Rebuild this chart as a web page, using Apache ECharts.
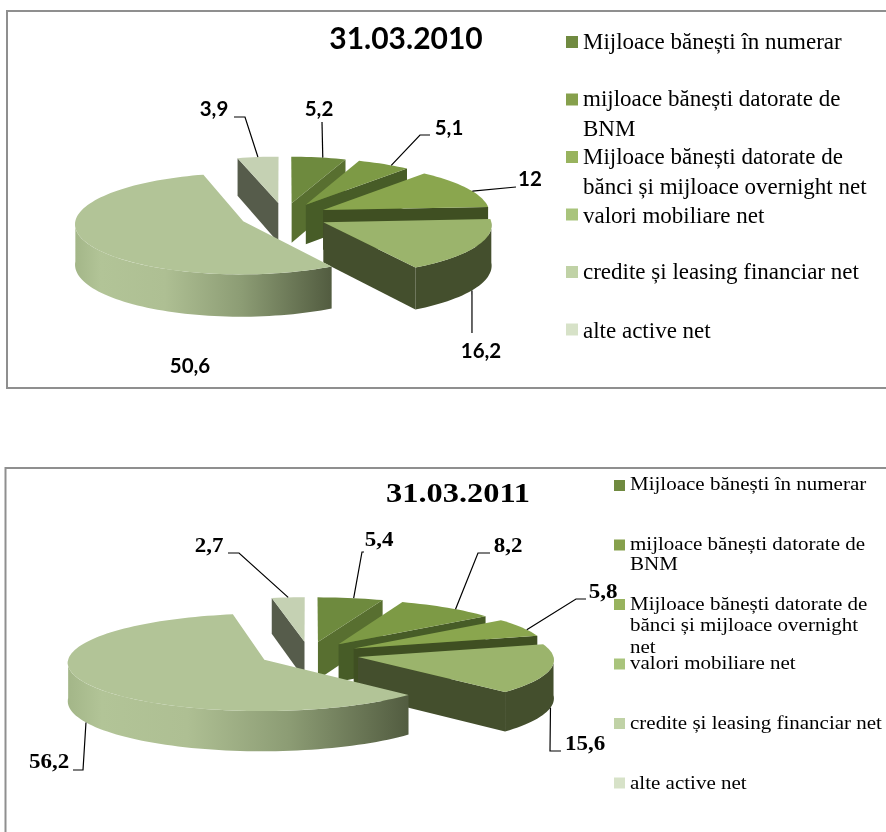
<!DOCTYPE html>
<html><head><meta charset="utf-8">
<style>html,body{margin:0;padding:0;background:#fff}#c{width:886px;height:832px}</style>
<script src="https://cdn.jsdelivr.net/npm/echarts@6/dist/echarts.min.js"></script>
</head><body><div id="c"></div>
<script>
// ---- data ----
const categories = ['Mijloace bănești în numerar','mijloace bănești datorate de BNM','Mijloace bănești datorate de bănci și mijloace overnight net','valori mobiliare net','credite și leasing financiar net','alte active net'];
const values2010 = [5.2, 5.1, 12, 16.2, 50.6, 3.9];
const values2011 = [5.4, 8.2, 5.8, 15.6, 56.2, 2.7];
const legendLines2010 = [['Mijloace bănești în numerar'],['mijloace bănești datorate de','BNM'],['Mijloace bănești datorate de','bănci și mijloace overnight net'],['valori mobiliare net'],['credite și leasing financiar net'],['alte active net']];
const legendLines2011 = [['Mijloace bănești în numerar'],['mijloace bănești datorate de','BNM'],['Mijloace bănești datorate de','bănci și mijloace overnight','net'],['valori mobiliare net'],['credite și leasing financiar net'],['alte active net']];
// ---- colours ----
const topColors = ['#6e8a3e','#7d9a45','#8aa64e','#9bb46c','#b2c497','#c5d1b3'];
const sideColors = ['#586f30','#475c27','#3f4f22','#444f2d','#b2c497','#565c4b'];
const swatchColors = ['#708a40','#86a04c','#98b35e','#a9c47c','#c0d2a6','#d7e2c8'];
const paintOrder = [5,0,1,2,3,4];
// ---- layout ----
const layouts = [{
  title:'31.03.2010', values:values2010, legend:legendLines2010,
  cx:284, cy:216, a:167, b:50, e:0.264, k:0.05, depth:40,
  titleFont:'bold 30px Lato', titleX:406, titleY:39, titleScale:1,
  labelFont:'bold 20.5px Lato', labelScale:1,
  labels:[[319,109],[449,128],[530,179],[481,351],[190,366],[214,109]],
  leaders:[[[322,122]],[[430,135],[420,135]],[[516,187]],[[472,333]],null,[[234,117],[245,117]]],
  leaderBottom:[false,false,false,true,false,false],
  leaderShift:[1.5,3,4,3.5,0,0],
  swX:566, swSize:12, swY0:36, swStep:57.5, lgX:583, lgFont:'23px "Liberation Serif"', lgScale:1,
  lineYs:[[43],[100,130],[158,188],[217],[273],[332]]
},{
  title:'31.03.2011', values:values2011, legend:legendLines2011,
  cx:309, cy:654, a:195, b:48, e:0.258, k:0.05, depth:38,
  titleFont:'bold 27px "Liberation Serif"', titleX:458, titleY:495, titleScale:1.2,
  labelFont:'bold 20px "Liberation Serif"', labelScale:1.15,
  labels:[[379,541],[508,547],[603,593],[585,745],[49,763],[209,547]],
  leaders:[[[364,552],[362,552]],[[490,553],[478,553]],[[586,599],[576,599]],[[561,751],[550,751]],[[73,770],[83,770]],[[228,553],[239,553]]],
  leaderBottom:[false,false,false,true,true,false],
  leaderShift:[1,3,3,0,0,0],
  swX:614, swSize:11, swY0:480, swStep:59.5, lgX:630, lgFont:'18px "Liberation Serif"', lgScale:1.167,
  lineYs:[[485],[545,565],[605,626,648],[664],[724],[784]]
}];
const frames = [[7,11,1000,377],[5.5,468,1000,500]];

function angles(vals){
  const sum = vals.reduce((s,v)=>s+v,0); let cur = 0;
  return vals.map(v=>{const st=cur; cur+=v/sum*360; return [st,cur];});
}
const rad = d=>d*Math.PI/180;
function project(L,x,y,dz){
  const s = 1/(1+L.k*y);
  return [L.cx+L.a*x*s, L.cy-L.b*y*s+(dz||0)*s];
}
function slicePoint(L,ang,i,theta,r,dz){
  const mid=(ang[i][0]+ang[i][1])/2;
  const ox=L.e*Math.sin(rad(mid)), oy=L.e*Math.cos(rad(mid));
  return project(L, ox+r*Math.sin(rad(theta)), oy+r*Math.cos(rad(theta)), dz);
}
function arc(L,ang,i,t0,t1,dz){
  const pts=[]; const n=Math.max(2,Math.ceil(Math.abs(t1-t0)/2));
  for(let j=0;j<=n;j++) pts.push(slicePoint(L,ang,i,t0+(t1-t0)*j/n,1,dz));
  return pts;
}
function poly(points,fill){return {type:'polygon',shape:{points},style:{fill,stroke:null}};}
function sliceItem(L,ang,i){
  const [st,en]=ang[i], kids=[];
  const apex=slicePoint(L,ang,i,0,0,0), apexB=slicePoint(L,ang,i,0,0,L.depth);
  const side=sideColors[i];
  // radial faces that look towards the viewer
  [[st,st-90],[en,en+90]].forEach(([t,nrm])=>{
    if(Math.cos(rad(nrm))<-0.001){
      const p=slicePoint(L,ang,i,t,1,0), q=slicePoint(L,ang,i,t,1,L.depth);
      kids.push(poly([apex,p,q,apexB],side));
    }
  });
  // outer wall on the front half
  const r0=Math.max(st,90), r1=Math.min(en,270);
  if(r1>r0){
    let fill=side;
    if(i===4){
      fill=new echarts.graphic.LinearGradient(0,0,1,0,[
        {offset:0,color:'#a3b688'},{offset:0.1,color:'#b2c497'},{offset:0.35,color:'#aebf93'},
        {offset:0.65,color:'#8c9c74'},{offset:1,color:'#525c40'}]);
    }
    const topArc=arc(L,ang,i,r0,r1,0), botArc=arc(L,ang,i,r1,r0,L.depth);
    kids.push(poly(topArc.concat(botArc),fill));
  }
  kids.push(poly([apex].concat(arc(L,ang,i,st,en,0)),topColors[i]));
  return {type:'group',children:kids};
}
function txt(text,x,y,font,scale,align,fill){
  return {type:'text',x,y,scaleX:scale||1,scaleY:1,
    style:{text,x:0,y:0,font,fill:fill||'#000',align:align||'center',verticalAlign:'middle'}};
}
function annotItem(L,ang){
  const kids=[];
  kids.push(txt(L.title,L.titleX,L.titleY,L.titleFont,L.titleScale));
  L.values.forEach((v,i)=>{
    kids.push(txt(String(v).replace('.',','),L.labels[i][0],L.labels[i][1],L.labelFont,L.labelScale));
    if(L.leaders[i]){
      const mid=(ang[i][0]+ang[i][1])/2+L.leaderShift[i];
      const anchor=slicePoint(L,ang,i,mid,1,L.leaderBottom[i]?L.depth:0);
      kids.push({type:'polyline',shape:{points:L.leaders[i].concat([anchor])},style:{stroke:'#000',lineWidth:1.2,fill:null}});
    }
    kids.push({type:'rect',shape:{x:L.swX,y:L.swY0+i*L.swStep,width:L.swSize,height:L.swSize},style:{fill:swatchColors[i]}});
    L.legend[i].forEach((line,j)=>kids.push(txt(line,L.lgX,L.lineYs[i][j],L.lgFont,L.lgScale,'left')));
  });
  return {type:'group',children:kids};
}
const series=[];
layouts.forEach(L=>{
  const ang=angles(L.values);
  series.push({type:'custom',name:L.title,coordinateSystem:'none',silent:true,z:3,animation:false,
    data:paintOrder.map(i=>({name:categories[i],value:[i,L.values[i]]})),
    renderItem:(p,api)=>sliceItem(L,ang,api.value(0))});
  series.push({type:'custom',name:L.title+' text',coordinateSystem:'none',silent:true,z:4,animation:false,
    data:[[0]],renderItem:()=>annotItem(L,ang)});
});
const chart=echarts.init(document.getElementById('c'),null,{renderer:'canvas'});
chart.setOption({
  animation:false,backgroundColor:'#fff',
  graphic:frames.map(f=>({type:'rect',shape:{x:f[0],y:f[1],width:f[2],height:f[3]},style:{fill:'#fff',stroke:'#8f8f8f',lineWidth:2},silent:true})),
  series
});
</script></body></html>
